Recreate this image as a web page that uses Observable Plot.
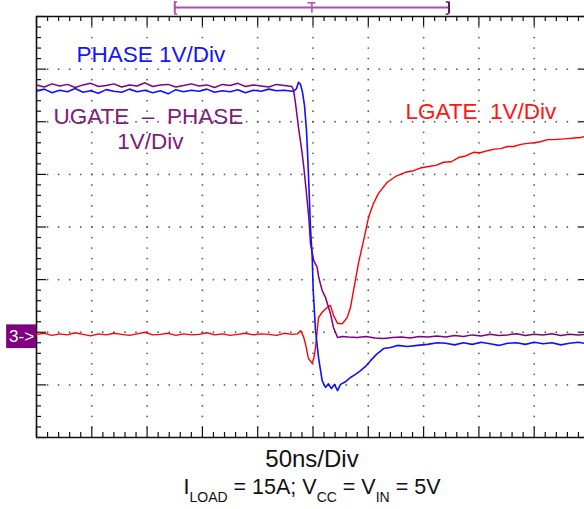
<!DOCTYPE html>
<html>
<head>
<meta charset="utf-8">
<script src="https://cdn.jsdelivr.net/npm/d3@7"></script>
<script src="https://cdn.jsdelivr.net/npm/@observablehq/plot@0.6"></script>
<style>
  html, body { margin: 0; padding: 0; background: #fff; overflow: hidden; width: 584px; height: 509px; }
  #wrap { position: relative; width: 584px; height: 509px; }
  .cap { position: absolute; left: 0; width: 624px; text-align: center; font-family: "Liberation Sans", Arial, sans-serif; color: #111; line-height: 1; white-space: nowrap; }
  .sub { font-size: 14px; position: relative; top: 8px; }
  svg { overflow: visible; }
</style>
</head>
<body>
<div id="wrap"></div>
<script>
// Time in ns (50 ns/div, 0 = trigger at screen centre); value in screen divisions from centre.
const phaseT = [-250,-243,-236,-229,-222,-215,-208,-201,-194,-187,-180,-173,-166,-159,-152,-145,-138,-131,-124,-117,-110,-103,-96,-89,-82,-75,-68,-61,-54,-47,-40,-33,-26,-19,
  -17.6,-14.9,-13.1,-11.3,-9.5,-7.7,-5.9,-5.0,-3.8,-2.3,-0.7,0.2,2.3,5.0,8.3,11.3,14.0,16.7,19.4,22.2,24.9,29.4,33.9,38.4,43.0,47.5,52.0,57.4,63.8,70.1,76.4,85.4,94.5,103.5,112.6,
  120,128,136,144,152,160,168,176,184,192,200,208,216,224,232,240,248];
const phaseV = [2.58,2.62,2.55,2.60,2.57,2.63,2.56,2.59,2.54,2.61,2.58,2.56,2.62,2.57,2.60,2.55,2.59,2.53,2.61,2.57,2.60,2.58,2.62,2.56,2.59,2.57,2.61,2.55,2.60,2.58,2.62,2.59,2.60,2.58,
  2.58,2.63,2.75,2.71,2.56,2.31,1.84,1.45,0.83,-0.01,-0.58,-1.21,-1.97,-2.48,-2.92,-3.05,-2.98,-3.07,-2.99,-3.11,-2.99,-2.94,-2.86,-2.80,-2.73,-2.65,-2.54,-2.42,-2.31,-2.29,-2.25,-2.27,-2.25,-2.23,-2.20,
  -2.21,-2.24,-2.20,-2.23,-2.19,-2.22,-2.25,-2.21,-2.20,-2.23,-2.19,-2.22,-2.20,-2.24,-2.21,-2.19,-2.22];

const ugateT = [-250,-243,-236,-229,-222,-215,-208,-201,-194,-187,-180,-173,-166,-159,-152,-145,-138,-131,-124,-117,-110,-103,-96,-89,-82,-75,-68,-61,-54,-47,-40,-33,-26,-19,
  -17.6,-15.8,-13.1,-9.8,-8.3,-5.9,-3.8,-2.3,0.7,3.8,5.2,8.3,11.3,15.8,18.5,22.2,26.7,
  32,40,48,56,64,72,80,88,96,104,112,120,128,136,144,152,160,168,176,184,192,200,208,216,224,232,240,248];
const ugateV = [2.70,2.66,2.72,2.68,2.71,2.65,2.70,2.73,2.67,2.69,2.72,2.66,2.70,2.68,2.74,2.67,2.70,2.71,2.66,2.69,2.72,2.68,2.70,2.65,2.71,2.69,2.73,2.67,2.70,2.68,2.66,2.71,2.69,2.67,
  2.60,2.35,1.89,1.40,1.13,0.64,0.18,-0.31,-0.64,-0.77,-0.96,-1.21,-1.34,-1.65,-1.91,-2.10,-2.08,
  -2.09,-2.10,-2.08,-2.11,-2.12,-2.10,-2.09,-2.11,-2.08,-2.09,-2.07,-2.09,-2.06,-2.08,-2.05,-2.07,-2.04,-2.06,-2.05,-2.03,-2.06,-2.04,-2.05,-2.03,-2.06,-2.04,-2.05,-2.04];

const lgateT = [-250,-243,-236,-229,-222,-215,-208,-201,-194,-187,-180,-173,-166,-159,-152,-145,-138,-131,-124,-117,-110,-103,-96,-89,-82,-75,-68,-61,-54,-47,-40,-33,-26,-19,
  -14,-11.3,-8.6,-6.8,-4.1,-0.7,0.9,2.3,5.0,8.3,12.8,15.8,18.5,22.2,26.4,30.9,33.9,36.6,41.1,45.7,50.2,54.7,59.2,67.1,74.6,83.6,90.8,
  97,104.4,111,118.0,125,131.5,138,145.1,151,157.8,164,169.5,176,181.3,188,194.0,200,205.7,212,217.5,224,230.2,236,241.9,245.5];
const lgateV = [-2.04,-2.02,-2.06,-2.03,-2.05,-2.01,-2.04,-2.07,-2.03,-2.05,-2.02,-2.04,-2.06,-2.03,-2.00,-2.05,-2.04,-2.02,-2.06,-2.03,-2.05,-2.04,-2.01,-2.05,-2.03,-2.06,-2.04,-2.02,-2.05,-2.03,-2.04,-2.06,-2.02,-2.04,
  -2.03,-1.97,-2.08,-2.22,-2.50,-2.59,-2.48,-2.29,-1.72,-1.62,-1.53,-1.49,-1.68,-1.83,-1.84,-1.72,-1.53,-1.21,-0.69,-0.26,0.18,0.45,0.64,0.85,0.96,1.04,1.07,
  1.12,1.15,1.17,1.23,1.24,1.32,1.35,1.42,1.41,1.45,1.48,1.49,1.53,1.53,1.57,1.59,1.60,1.62,1.66,1.66,1.67,1.68,1.69,1.70,1.72];

// Trigger / window indicator above the graticule
const windowStart = -125, windowEnd = 123, triggerT = -1;
const channel3Ref = -2.04;

const labels = [
  {t: -213.8, v: 3.13, text: "PHASE 1V/Div", color: "#1414ff"},
  {t: -234.6, v: 1.96, text: "UGATE\u00a0\u00a0\u2013\u00a0\u00a0PHASE", color: "#7d1c7d"},
  {t: -177.0, v: 1.49, text: "1V/Div", color: "#7d1c7d"},
  {t: 83.6, v: 2.06, text: "LGATE\u00a0\u00a01V/Div", color: "#ff1414"}
];

const rows = [];
phaseT.forEach((t, i) => rows.push({s: "PHASE", t, v: phaseV[i]}));
ugateT.forEach((t, i) => rows.push({s: "UGATE", t, v: ugateV[i]}));
lgateT.forEach((t, i) => rows.push({s: "LGATE", t, v: lgateV[i]}));

// Graticule
const xMajor = d3.range(-250, 251, 50);
const xMinor = d3.range(-250, 251, 10);
const yMajor = d3.range(-4, 4.01, 1);
const yMinor = d3.range(-4, 4.01, 0.2).map(v => Math.round(v * 10) / 10);
const isMajorY = v => Math.abs(v - Math.round(v)) < 1e-6;
const dotsV = [];
xMajor.filter(x => x > -250 && x < 250).forEach(x => yMinor.filter(y => y > -4 && y < 4).forEach(y => dotsV.push({x, y})));
yMajor.filter(y => y > -4 && y < 4).forEach(y => xMinor.filter(x => x > -250 && x < 250).forEach(x => dotsV.push({x, y})));

const pxY = 1 / 52.6; // div per pixel (vertical)
const pxX = 50 / 55.3; // ns per pixel (horizontal)
const xTicks = xMinor.map(x => ({x, len: (x % 50 === 0 ? 10 : 5)}));
const yTicks = yMinor.map(y => ({y, len: (isMajorY(y) ? 10 : 5)}));

const colorMap = {PHASE: "#1010ff", UGATE: "#800080", LGATE: "#ff0000"};
const mk = "#b04ab0";

const chart = Plot.plot({
  width: 584,
  height: 440,
  x: {domain: [-250, 250], range: [36, 589], axis: null},
  y: {domain: [-4, 4], range: [437, 16], axis: null},
  style: {fontFamily: "'Liberation Sans', Arial, sans-serif", background: "white", overflow: "visible"},
  marks: [
    Plot.dot(dotsV, {x: "x", y: "y", r: 0.9, fill: "#5e5e5e", stroke: "none"}),
    // borders
    Plot.ruleY([4, -4], {x1: -250, x2: 250, stroke: "#111", strokeWidth: 1.6}),
    Plot.ruleX([-250, 250], {y1: -4, y2: 4, stroke: "#111", strokeWidth: 1.6}),
    // border ticks
    Plot.ruleX(xTicks, {x: "x", y1: 4, y2: d => 4 - d.len * pxY, stroke: "#111", strokeWidth: 1.2}),
    Plot.ruleX(xTicks, {x: "x", y1: -4, y2: d => -4 + d.len * pxY, stroke: "#111", strokeWidth: 1.2}),
    Plot.ruleY(yTicks, {y: "y", x1: -250, x2: d => -250 + d.len * pxX, stroke: "#111", strokeWidth: 1.2}),
    Plot.ruleY(yTicks, {y: "y", x1: 250, x2: d => 250 - d.len * pxX, stroke: "#111", strokeWidth: 1.2}),
    // traces
    Plot.line(rows.filter(d => d.s === "LGATE"), {x: "t", y: "v", stroke: colorMap.LGATE, strokeWidth: 1.4}),
    Plot.line(rows.filter(d => d.s === "UGATE"), {x: "t", y: "v", stroke: colorMap.UGATE, strokeWidth: 1.5}),
    Plot.line(rows.filter(d => d.s === "PHASE"), {x: "t", y: "v", stroke: colorMap.PHASE, strokeWidth: 1.6}),
    // labels
    Plot.text(labels, {x: "t", y: "v", text: "text", fill: "color", textAnchor: "start", lineAnchor: "bottom", fontSize: 22.5}),
    // window / trigger indicator
    Plot.ruleY([4.17], {x1: windowStart, x2: windowEnd, stroke: mk, strokeWidth: 2}),
    Plot.ruleX([windowStart], {y1: 4.045, y2: 4.275, stroke: mk, strokeWidth: 2}),
    Plot.ruleX([windowEnd], {y1: 4.045, y2: 4.275, stroke: "#5a1a5a", strokeWidth: 2}),
    Plot.ruleY([4.045, 4.275], {x1: windowStart, x2: windowStart + 2.5, stroke: mk, strokeWidth: 1.5}),
    Plot.ruleY([4.045, 4.275], {x1: windowEnd - 2.5, x2: windowEnd, stroke: "#5a1a5a", strokeWidth: 1.5}),
    Plot.ruleX([triggerT], {y1: 4.06, y2: 4.26, stroke: mk, strokeWidth: 1.5}),
    Plot.ruleY([4.26], {x1: triggerT - 3.5, x2: triggerT + 3.5, stroke: mk, strokeWidth: 1.5}),
    // channel 3 ground marker
    Plot.rect([channel3Ref], {x1: -277, x2: -250, y1: d => d + 0.18, y2: d => d - 0.27, fill: "#800080"}),
    Plot.text([channel3Ref], {x: -263.5, y: d => d - 0.04, text: () => "3->", fill: "white", fontSize: 17, textAnchor: "middle", lineAnchor: "middle"})
  ]
});

const wrap = document.getElementById("wrap");
wrap.appendChild(chart);
const c1 = document.createElement("div");
c1.className = "cap";
c1.style.top = "447px";
c1.style.fontSize = "24px";
c1.textContent = "50ns/Div";
wrap.appendChild(c1);
const c2 = document.createElement("div");
c2.className = "cap";
c2.style.top = "477px";
c2.style.fontSize = "21.5px";
c2.innerHTML = 'I<span class="sub">LOAD</span> = 15A; V<span class="sub">CC</span> = V<span class="sub">IN</span> = 5V';
wrap.appendChild(c2);
</script>
</body>
</html>
